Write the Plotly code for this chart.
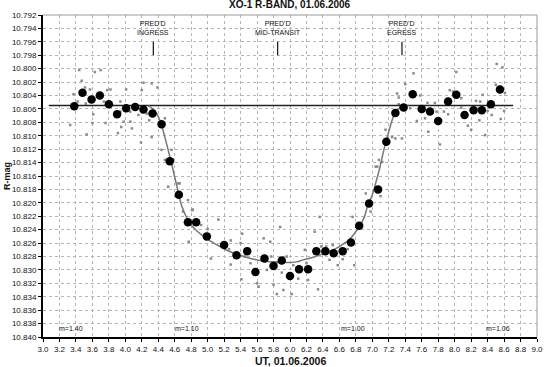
import plotly.graph_objects as go

# ---- data ----
bin_ut = [3.38, 3.48, 3.59, 3.69, 3.80, 3.90, 4.01, 4.12, 4.22, 4.33, 4.44, 4.54,
          4.65, 4.76, 4.86, 4.99, 5.20, 5.35, 5.48, 5.58, 5.69, 5.80, 5.90, 6.00,
          6.11, 6.22, 6.32, 6.43, 6.53, 6.64, 6.74, 6.84, 6.96, 7.07, 7.17, 7.28,
          7.38, 7.49, 7.60, 7.70, 7.80, 7.92, 8.02, 8.12, 8.23, 8.33, 8.44, 8.55]
bin_mag = [10.8056, 10.8036, 10.8046, 10.8040, 10.8053, 10.8068, 10.8059, 10.8057,
           10.8061, 10.8067, 10.8083, 10.8138, 10.8188, 10.8229, 10.8229, 10.8250,
           10.8263, 10.8278, 10.8272, 10.8303, 10.8283, 10.8294, 10.8286, 10.8309,
           10.8299, 10.8299, 10.8272, 10.8272, 10.8275, 10.8272, 10.8259, 10.8234,
           10.8201, 10.8180, 10.8109, 10.8066, 10.8058, 10.8038, 10.8060, 10.8064,
           10.8078, 10.8049, 10.8039, 10.8069, 10.8062, 10.8062, 10.8053, 10.8031]

raw_ut = [3.44, 3.63, 3.70, 3.47, 3.51, 3.37, 3.57, 3.82, 3.78, 4.22, 4.32, 4.39,
          4.01, 4.20, 3.42, 3.52, 3.74, 3.72, 3.94, 3.61, 3.94, 4.06, 3.60, 3.76,
          3.98, 4.06, 4.16, 4.26, 4.29, 4.48, 3.33, 3.53, 3.95, 3.91, 4.08, 4.19,
          4.32, 4.44, 4.56, 4.58, 4.52, 4.64, 4.76, 4.82, 4.77,
          4.48, 4.66, 4.70, 4.81, 4.92, 5.00, 5.13, 5.04, 5.28, 5.26, 5.28, 5.42,
          5.40, 5.45, 5.41, 5.52, 5.60, 5.62, 5.68, 5.76, 5.77, 5.72, 5.80, 5.84,
          5.88, 5.90, 5.92, 5.84, 5.96, 6.04, 6.02, 6.10, 6.18, 6.20, 6.22, 6.30,
          6.36, 6.34, 6.38, 6.48, 6.44, 6.52, 6.58, 6.64, 6.70, 6.78, 6.76, 6.84,
          6.92, 6.98, 7.04, 7.10, 7.08, 7.12, 7.06,
          7.50, 8.02, 8.51, 8.58, 7.40, 7.30, 7.58, 7.32, 7.94, 7.98, 8.08, 8.26,
          8.34, 8.31, 8.50, 8.61, 7.67, 7.76, 7.87, 7.78, 7.46, 7.64, 7.54, 7.92,
          8.08, 8.30, 8.16, 8.20, 8.40, 8.45, 8.60, 8.56, 7.68, 8.37, 7.82, 7.16,
          7.24, 7.36, 7.32, 7.28]
raw_mag = [10.8002, 10.8005, 10.8002, 10.8018, 10.8028, 10.8038, 10.8031, 10.8031,
           10.8032, 10.8021, 10.8022, 10.8028, 10.8031, 10.8032, 10.8049, 10.8052,
           10.8049, 10.8039, 10.8049, 10.8068, 10.8064, 10.8064, 10.8081, 10.8081,
           10.8079, 10.8079, 10.8069, 10.8067, 10.8077, 10.8074, 10.8084, 10.8098,
           10.8087, 10.8096, 10.8089, 10.8110, 10.8102, 10.8121, 10.8121, 10.8135,
           10.8176, 10.8171, 10.8196, 10.8210, 10.8258,
           10.8136, 10.8171, 10.8213, 10.8211, 10.8233, 10.8239, 10.8225, 10.8283,
           10.8256, 10.8269, 10.8292, 10.8246, 10.8260, 10.8280, 10.8314, 10.8290,
           10.8320, 10.8325, 10.8253, 10.8258, 10.8280, 10.8300, 10.8322, 10.8289,
           10.8236, 10.8304, 10.8330, 10.8336, 10.8280, 10.8293, 10.8336, 10.8313,
           10.8270, 10.8290, 10.8315, 10.8243, 10.8221, 10.8329, 10.8265, 10.8285,
           10.8265, 10.8263, 10.8293, 10.8284, 10.8269, 10.8293, 10.8221, 10.8235,
           10.8186, 10.8213, 10.8146, 10.8190, 10.8136, 10.8139, 10.8146,
           10.8007, 10.8005, 10.7993, 10.7998, 10.8023, 10.8037, 10.8040, 10.8043,
           10.8032, 10.8034, 10.8044, 10.8048, 10.8039, 10.8049, 10.8024, 10.8036,
           10.8051, 10.8051, 10.8064, 10.8064, 10.8059, 10.8074, 10.8078, 10.8068,
           10.8058, 10.8077, 10.8085, 10.8091, 10.8063, 10.8069, 10.8063, 10.8075,
           10.8094, 10.8099, 10.8113, 10.8091, 10.8102, 10.8104, 10.8053, 10.8104]

fit_ut = [4.28, 4.36, 4.42, 4.48, 4.54, 4.58, 4.64, 4.68, 4.74, 4.80, 4.87, 4.94,
          5.02, 5.12, 5.22, 5.32, 5.44, 5.56, 5.68, 5.80, 5.96, 6.08, 6.16, 6.26,
          6.36, 6.46, 6.56, 6.64, 6.72, 6.78, 6.84, 6.90, 6.94, 7.00, 7.04, 7.09,
          7.14, 7.19, 7.24, 7.28, 7.33, 7.38, 7.44]
fit_mag = [10.8055, 10.8063, 10.8077, 10.8102, 10.8131, 10.8151, 10.8183, 10.8203,
           10.8221, 10.8233, 10.8242, 10.8249, 10.8256, 10.8263, 10.8270, 10.8275,
           10.8280, 10.8284, 10.8287, 10.8288, 10.8289, 10.8288, 10.8285, 10.8282,
           10.8278, 10.8273, 10.8268, 10.8262, 10.8255, 10.8246, 10.8236, 10.8222,
           10.8206, 10.8188, 10.8171, 10.8148, 10.8121, 10.8098, 10.8077, 10.8064,
           10.8059, 10.8056, 10.8055]

baseline_ut = [3.07, 8.71]
baseline_mag = [10.8055, 10.8055]

pred_ut = [4.34, 5.85, 7.36]
pred_labels = ["PRED'D<br>INGRESS", "PRED'D<br>MID-TRANSIT", "PRED'D<br>EGRESS"]

airmass_ut = [3.34, 4.75, 6.76, 8.53]
airmass_labels = ["m=1.40", "m=1.10", "m=1.00", "m=1.06"]

title_text = "XO-1 R-BAND, 01.06.2006"
x_title = "UT, 01.06.2006"
y_title = "R-mag"

# ---- figure ----
FONT = "Liberation Sans, Arial, sans-serif"
fig = go.Figure()

fig.add_trace(go.Scatter(x=raw_ut, y=raw_mag, mode="markers",
                         marker=dict(size=2.5, color="#8a8a8a", symbol="square"),
                         hoverinfo="skip", showlegend=False))
fig.add_trace(go.Scatter(x=baseline_ut, y=baseline_mag, mode="lines",
                         line=dict(color="#222222", width=1.6), showlegend=False))
fig.add_trace(go.Scatter(x=fit_ut, y=fit_mag, mode="lines", line_shape="spline",
                         line=dict(color="#777777", width=1.5), showlegend=False))
fig.add_trace(go.Scatter(x=bin_ut, y=bin_mag, mode="markers",
                         marker=dict(size=8.5, color="#000000",
                                     line=dict(width=0)), showlegend=False))

# predicted-time markers
for t, lab in zip(pred_ut, pred_labels):
    fig.add_annotation(x=t, y=10.7955, xref="x", yref="y", text=lab,
                       showarrow=False, yanchor="bottom",
                       font=dict(family=FONT, size=7, color="#111"),
                       align="center")
    fig.add_shape(type="line", xref="x", yref="y", x0=t, x1=t,
                  y0=10.7960, y1=10.7980, line=dict(color="#111", width=1.2))

for t, lab in zip(airmass_ut, airmass_labels):
    fig.add_annotation(x=t, y=10.8387, xref="x", yref="y", text=lab,
                       showarrow=False, font=dict(family=FONT, size=7, color="#111"))

# titles
fig.add_annotation(x=0.5, y=1, xref="paper", yref="paper", yanchor="bottom",
                   yshift=3, text="<b>" + title_text + "</b>", showarrow=False,
                   font=dict(family=FONT, size=10, color="#111"))
fig.add_annotation(x=0.5, y=0, xref="paper", yref="paper", yanchor="top",
                   yshift=-16, text="<b>" + x_title + "</b>", showarrow=False,
                   font=dict(family=FONT, size=10.5, color="#111"))
fig.add_annotation(x=0, y=0.5, xref="paper", yref="paper", xanchor="center",
                   xshift=-36, text="<b>" + y_title + "</b>", showarrow=False,
                   textangle=-90, font=dict(family=FONT, size=9, color="#111"))

# top / right border (thin grey)
fig.add_shape(type="line", xref="paper", yref="paper", x0=0, x1=1, y0=1, y1=1,
              line=dict(color="#999", width=1))
fig.add_shape(type="line", xref="paper", yref="paper", x0=1, x1=1, y0=0, y1=1,
              line=dict(color="#999", width=1))

fig.update_xaxes(range=[3.0, 9.0], dtick=0.2, tick0=3.0, tickformat=".1f",
                 showgrid=True, gridcolor="#b5b5b5", griddash="dot", gridwidth=1,
                 showline=True, linecolor="#000", linewidth=2,
                 ticks="outside", ticklen=3, tickcolor="#000", zeroline=False,
                 tickfont=dict(family=FONT, size=8, color="#111"))
fig.update_yaxes(range=[10.840, 10.792], dtick=0.002, tick0=10.792, tickformat=".3f",
                 showgrid=True, gridcolor="#b5b5b5", griddash="dot", gridwidth=1,
                 showline=True, linecolor="#000", linewidth=2,
                 ticks="outside", ticklen=3, tickcolor="#000", zeroline=False,
                 tickfont=dict(family=FONT, size=8, color="#111"))

fig.update_layout(width=550, height=367, margin=dict(l=43, r=7, t=15, b=30),
                  plot_bgcolor="white", paper_bgcolor="white",
                  font=dict(family=FONT), showlegend=False)

fig.write_html("out.html", config={"displayModeBar": False},
               post_script="document.body.style.margin='0';"
                           "document.body.style.overflow='hidden';")
